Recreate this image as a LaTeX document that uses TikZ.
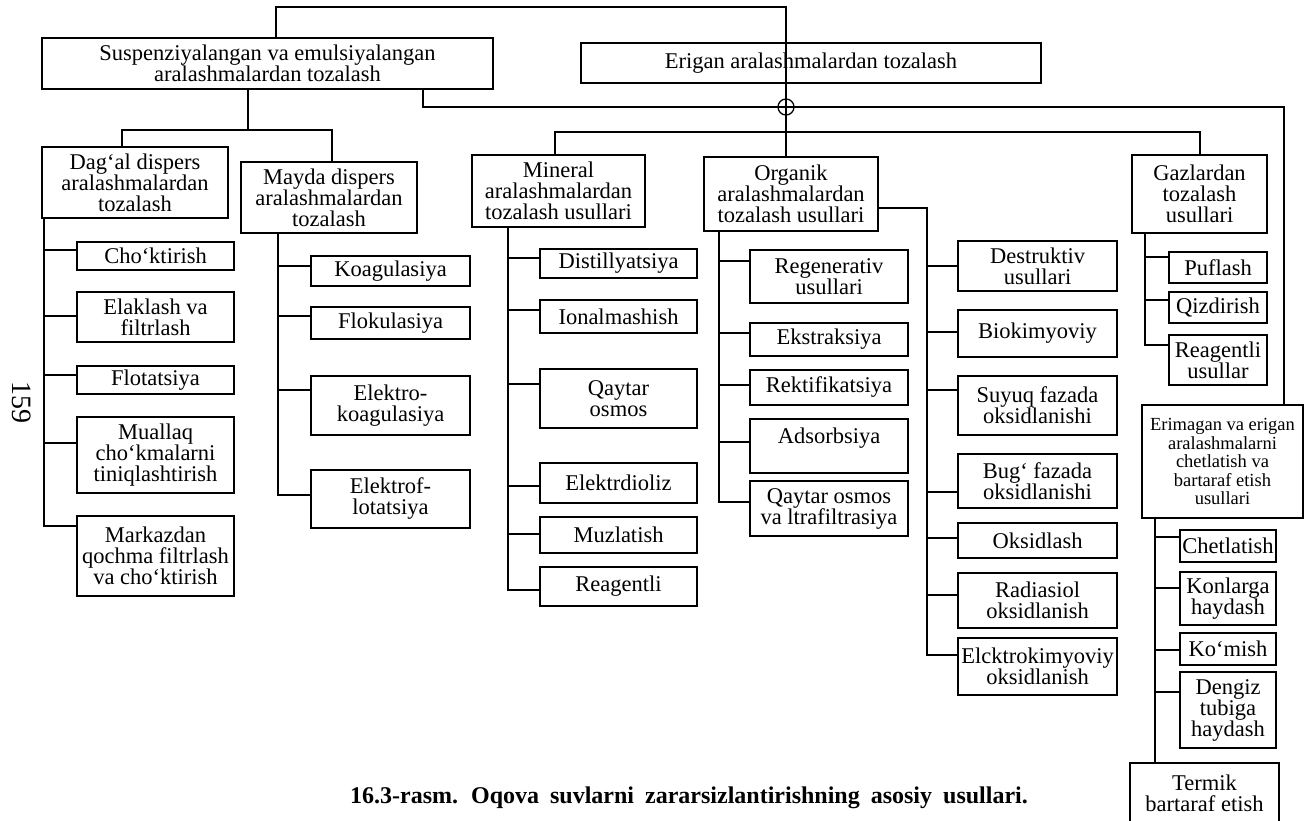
\documentclass[tikz,border=0pt]{standalone}
\usepackage{fontspec}
\setmainfont{Liberation Serif}
\usetikzlibrary{calc}
\tikzset{
  bx/.style={draw,line width=1.4pt,inner sep=1pt,outer sep=0pt,align=center,
    font=\fontsize{22.5}{21}\selectfont},
  smalltext/.style={font=\fontsize{18.5}{18.5}\selectfont},
  ln/.style={line width=1.3pt},
}
\newcommand\mybox[7][]{\node[bx,#1,minimum width={#5-#3},minimum height={#6-#4}] (#2) at ({(#3+#5)/2},{(#4+#6)/2}) {#7};}
\begin{document}
\begin{tikzpicture}[x=1pt,y=-1pt]
\useasboundingbox (0,0) rectangle (1310,821);
% main boxes
\mybox{susp}{42}{38}{493}{89}{Suspenziyalangan va emulsiyalangan\\aralashmalardan tozalash}
\mybox{erig}{581}{43}{1041}{83}{Erigan aralashmalardan tozalash}
\mybox{dag}{42}{147}{228}{218}{Dag‘al dispers\\aralashmalardan\\tozalash}
\mybox{may}{241}{162}{417}{233}{Mayda dispers\\aralashmalardan\\tozalash}
\mybox{min}{472}{155}{645}{227}{Mineral\\aralashmalardan\\tozalash usullari}
\mybox{org}{704}{157}{878}{231}{Organik\\aralashmalardan\\tozalash usullari}
\mybox{gaz}{1132}{155}{1267}{233}{Gazlardan\\tozalash\\usullari}
\mybox[smalltext]{erim}{1142}{405}{1303}{518}{Erimagan va erigan\\aralashmalarni\\chetlatish va\\bartaraf etish\\usullari}
\mybox{term}{1130}{763}{1279}{823}{Termik\\bartaraf etish}
% Dag'al children
\mybox{d1}{77}{242}{234}{270}{Cho‘ktirish}
\mybox{d2}{77}{292}{234}{342}{Elaklash va\\filtrlash}
\mybox{d3}{77}{366}{234}{394}{Flotatsiya}
\mybox{d4}{77}{417}{234}{493}{Muallaq\\cho‘kmalarni\\tiniqlashtirish}
\mybox{d5}{77}{516}{234}{596}{Markazdan\\qochma filtrlash\\va cho‘ktirish}
% Mayda children
\mybox{m1}{311}{256}{470}{286}{Koagulasiya}
\mybox{m2}{311}{307}{470}{339}{Flokulasiya}
\mybox{m3}{311}{376}{470}{435}{Elektro-\\koagulasiya}
\mybox{m4}{311}{470}{470}{528}{Elektrof-\\lotatsiya}
% Mineral children
\mybox{n1}{540}{249}{697}{278}{Distillyatsiya}
\mybox{n2}{540}{300}{697}{333}{Ionalmashish}
\mybox{n3}{540}{369}{697}{428}{Qaytar\\osmos}
\mybox{n4}{540}{463}{697}{503}{Elektrdioliz}
\mybox{n5}{540}{517}{697}{553}{Muzlatish}
\mybox{n6}{540}{567}{697}{606}{Reagentli}
% Organik left children
\mybox{o1}{750}{250}{908}{303}{Regenerativ\\usullari}
\mybox{o2}{750}{323}{908}{356}{Ekstraksiya}
\mybox{o3}{750}{370}{908}{405}{Rektifikatsiya}
\mybox{o4}{750}{419}{908}{473}{Adsorbsiya\\~}
\mybox{o5}{750}{481}{908}{536}{Qaytar osmos\\va ltrafiltrasiya}
% Organik right children
\mybox{r1}{958}{241}{1117}{291}{Destruktiv\\usullari}
\mybox{r2}{958}{310}{1117}{357}{Biokimyoviy}
\mybox{r3}{958}{376}{1117}{435}{Suyuq fazada\\oksidlanishi}
\mybox{r4}{958}{454}{1117}{508}{Bug‘ fazada\\oksidlanishi}
\mybox{r5}{958}{523}{1117}{558}{Oksidlash}
\mybox{r6}{958}{573}{1117}{628}{Radiasiol\\oksidlanish}
\mybox{r7}{958}{638}{1117}{695}{Elcktrokimyoviy\\oksidlanish}
% Gaz children
\mybox{g1}{1169}{252}{1267}{283}{Puflash}
\mybox{g2}{1169}{292}{1267}{323}{Qizdirish}
\mybox{g3}{1169}{335}{1267}{385}{Reagentli\\usullar}
% Erim children
\mybox{e1}{1180}{530}{1276}{562}{Chetlatish}
\mybox{e2}{1180}{572}{1276}{625}{Konlarga\\haydash}
\mybox{e3}{1180}{633}{1276}{665}{Ko‘mish}
\mybox{e4}{1180}{672}{1276}{748}{Dengiz\\tubiga\\haydash}
% junction coordinates
\coordinate (root) at (786,7);
\coordinate (er) at (1284,107);
\coordinate (hop) at (786,107);
\coordinate (sj) at (248,130);
\coordinate (dj) at (122,130);
\coordinate (mj) at (332,130);
\coordinate (nj) at (555,132);
\coordinate (gj) at (1200,132);
% top connectors
\draw[ln] ([xshift=8.5pt]susp.north) |- (root) -- ([xshift=-5pt]org.north);
\draw[ln] ([xshift=155.5pt]susp.south) |- (er) -- ([xshift=61.5pt]erim.north);
\draw[ln,fill=white] (hop) circle (8pt);
\draw[ln] ([yshift=8pt]hop) -- ([yshift=-8pt]hop);
\draw[ln] ([xshift=-8pt]hop) -- ([xshift=8pt]hop);
\draw[ln] ([xshift=-19.5pt]susp.south) -- (sj);
\draw[ln] ([xshift=-13pt]dag.north) -- (dj) -- (mj) -- ([xshift=3pt]may.north);
\draw[ln] ([xshift=-3.5pt]min.north) -- (nj) -- (gj) -- ([xshift=0.5pt]gaz.north);
% Dag'al tree
\draw[ln] ([xshift=2pt]dag.south west) |- ([yshift=30pt]d5.west);
\draw[ln] ([yshift=6pt]d1.west) -- +(-33,0);
\draw[ln] ([yshift=1pt]d2.west) -- +(-33,0);
\draw[ln] ([yshift=5pt]d3.west) -- +(-33,0);
\draw[ln] ([yshift=12pt]d4.west) -- +(-33,0);
% Mayda tree
\draw[ln] ([xshift=37pt]may.south west) |- ([yshift=4pt]m4.west);
\draw[ln] ([yshift=5pt]m1.west) -- +(-33,0);
\draw[ln] ([yshift=7pt]m2.west) -- +(-33,0);
\draw[ln] ([yshift=15.5pt]m3.west) -- +(-33,0);
% Mineral tree
\draw[ln] ([xshift=36pt]min.south west) |- ([yshift=-3.5pt]n6.west);
\draw[ln] ([yshift=5.5pt]n1.west) -- +(-32,0);
\draw[ln] ([yshift=6.5pt]n2.west) -- +(-32,0);
\draw[ln] ([yshift=14.5pt]n3.west) -- +(-32,0);
\draw[ln] ([yshift=-3pt]n4.west) -- +(-32,0);
\draw[ln] ([yshift=1pt]n5.west) -- +(-32,0);
% Organik left tree
\draw[ln] ([xshift=15pt]org.south west) |- ([yshift=6.5pt]o5.west);
\draw[ln] ([yshift=15.5pt]o1.west) -- +(-31,0);
\draw[ln] ([yshift=6.5pt]o2.west) -- +(-31,0);
\draw[ln] ([yshift=2.5pt]o3.west) -- +(-31,0);
\draw[ln] ([yshift=4pt]o4.west) -- +(-31,0);
% Organik right tree
\draw[ln] ([yshift=-14pt]org.east) -| ([xshift=-31pt,yshift=11.5pt]r7.west) -- ([yshift=11.5pt]r7.west);
\draw[ln] (r1.west) -- +(-31,0);
\draw[ln] ([yshift=1.5pt]r2.west) -- +(-31,0);
\draw[ln] ([yshift=15.5pt]r3.west) -- +(-31,0);
\draw[ln] ([yshift=-11pt]r4.west) -- +(-31,0);
\draw[ln] ([yshift=2.5pt]r5.west) -- +(-31,0);
\draw[ln] ([yshift=5.5pt]r6.west) -- +(-31,0);
% Gaz tree
\draw[ln] ([xshift=13pt]gaz.south west) |- ([yshift=15pt]g3.west);
\draw[ln] ([yshift=10.5pt]g1.west) -- +(-24,0);
\draw[ln] ([yshift=7.5pt]g2.west) -- +(-24,0);
% Erim tree
\draw[ln] ([xshift=13pt]erim.south west) -- ([xshift=25pt]term.north west);
\draw[ln] ([yshift=9pt]e1.west) -- +(-25,0);
\draw[ln] ([yshift=10.5pt]e2.west) -- +(-25,0);
\draw[ln] ([yshift=-1pt]e3.west) -- +(-25,0);
\draw[ln] ([yshift=18pt]e4.west) -- +(-25,0);
% page number and caption
\node[rotate=-90,font=\fontsize{28}{28}\selectfont] (page) at (22,402) {159};
\node[font=\bfseries\fontsize{24}{24}\selectfont] (cap) at (689,798) {\spaceskip=11pt plus 1pt 16.3-rasm. Oqova suvlarni zararsizlantirishning asosiy usullari.};
\end{tikzpicture}
\end{document}
